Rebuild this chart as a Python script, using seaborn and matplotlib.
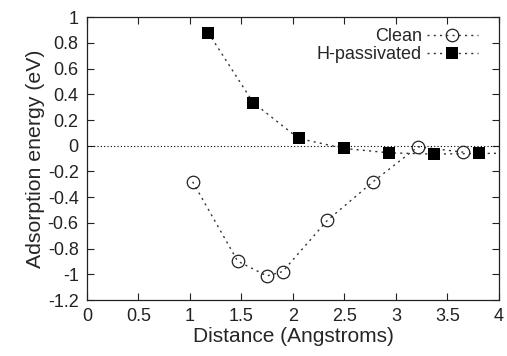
import matplotlib
matplotlib.use("Agg")
import matplotlib.pyplot as plt
import seaborn as sns
import pandas as pd

clean_x = [1.026, 1.463, 1.748, 1.900, 2.333, 2.773, 3.214, 3.654]
clean_y = [-0.28, -0.897, -1.012, -0.978, -0.581, -0.283, -0.008, -0.05]
hpas_x = [1.178, 1.615, 2.055, 2.495, 2.932, 3.369, 3.809, 4.25]
hpas_y = [0.878, 0.334, 0.057, -0.021, -0.055, -0.065, -0.06, -0.058]

x_ticks = [0, 0.5, 1, 1.5, 2, 2.5, 3, 3.5, 4]
x_tick_labels = ["0", "0.5", "1", "1.5", "2", "2.5", "3", "3.5", "4"]
y_ticks = [1, 0.8, 0.6, 0.4, 0.2, 0, -0.2, -0.4, -0.6, -0.8, -1, -1.2]
y_tick_labels = ["1", "0.8", "0.6", "0.4", "0.2", "0", "-0.2", "-0.4", "-0.6", "-0.8", "-1", "-1.2"]

sns.set_style("ticks")
plt.rcParams["font.family"] = ["Liberation Sans", "DejaVu Sans"]

fig = plt.figure(figsize=(5.07, 3.56), dpi=100)
ax = fig.add_axes([0.1716, 0.157, 0.984 - 0.1716, 0.952 - 0.157])

df_c = pd.DataFrame({"x": clean_x, "y": clean_y})
df_h = pd.DataFrame({"x": hpas_x, "y": hpas_y})

ax.axhline(0, color="black", lw=0.8, ls=(0, (1, 2)), zorder=1)

sns.lineplot(data=df_c, x="x", y="y", ax=ax, color="#333333", lw=1,
             linestyle=(0, (1.5, 3)), marker="o", markersize=9,
             markerfacecolor="none", markeredgecolor="#222222",
             markeredgewidth=0.9, label="Clean")
sns.lineplot(data=df_h, x="x", y="y", ax=ax, color="#333333", lw=1,
             linestyle=(0, (1.5, 3)), marker="s", markersize=9,
             markerfacecolor="black", markeredgecolor="black",
             markeredgewidth=0, label="H-passivated")

ax.set_xlim(0, 4)
ax.set_ylim(-1.2, 1)
ax.set_xticks(x_ticks)
ax.set_xticklabels(x_tick_labels)
ax.set_yticks(y_ticks)
ax.set_yticklabels(y_tick_labels)
ax.tick_params(direction="in", top=True, right=True, length=5, width=0.8,
               labelsize=13, pad=6, colors="#222222")
for s in ax.spines.values():
    s.set_linewidth(0.9)
    s.set_color("#222222")
ax.set_xlabel("Distance (Angstroms)", fontsize=15, labelpad=1)
ax.set_ylabel("Adsorption energy (eV)", fontsize=15.3, labelpad=2)

leg = ax.legend(loc="upper right", bbox_to_anchor=(0.975, 1.0), frameon=False,
                markerfirst=False, fontsize=13, handlelength=2.8, numpoints=1,
                borderaxespad=0.2, labelspacing=0.05, handletextpad=0.3)

fig.savefig("out.png", dpi=100)
